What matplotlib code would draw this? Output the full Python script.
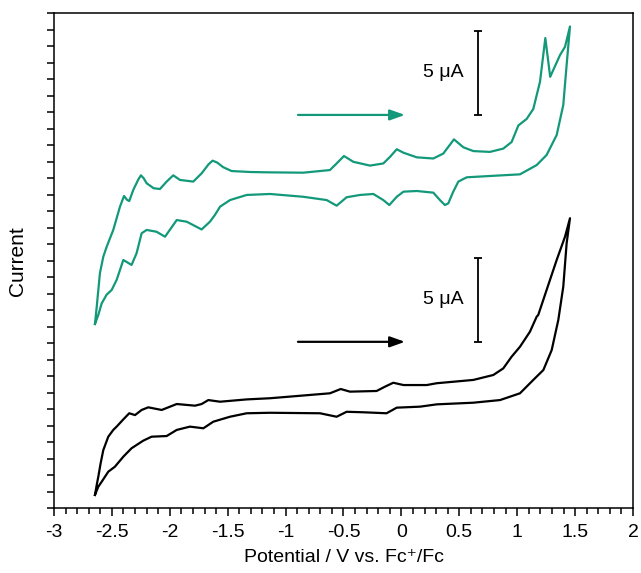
import matplotlib.pyplot as plt
from matplotlib.ticker import MultipleLocator

plt.rcParams['font.family'] = ['Liberation Sans', 'DejaVu Sans']

# CV trace, green (upper) - potential (V vs Fc+/Fc) and current (arb. offset, ~µA)
green_v = [-2.646, -2.631, -2.617, -2.603, -2.574, -2.545, -2.488, -2.43, -2.395, -2.37,
           -2.35, -2.315, -2.27, -2.249, -2.225, -2.2, -2.14, -2.085, -2.027, -1.97,
           -1.912, -1.797, -1.725, -1.665, -1.63, -1.59, -1.538, -1.466, -1.3, -1.135,
           -0.847, -0.617, -0.559, -0.496, -0.415, -0.271, -0.156, -0.098, -0.04, 0.018,
           0.133, 0.276, 0.362, 0.454, 0.535, 0.621, 0.765, 0.88, 0.952, 1.01,
           1.082, 1.139, 1.197, 1.243, 1.285, 1.37, 1.413, 1.456,
           1.427, 1.398, 1.341, 1.254, 1.168, 1.024, 0.765, 0.564, 0.492, 0.448,
           0.405, 0.376, 0.333, 0.276, 0.133, 0.018, -0.04, -0.104, -0.156, -0.242,
           -0.358, -0.473, -0.559, -0.645, -0.847, -1.135, -1.336, -1.48, -1.566, -1.61,
           -1.653, -1.725, -1.854, -1.94, -2.041, -2.114, -2.2, -2.243, -2.287, -2.33,
           -2.401, -2.459, -2.502, -2.545, -2.588, -2.617, -2.646]
green_i = [11.17, 12.2, 13.23, 14.26, 15.25, 15.85, 16.87, 18.28, 18.93, 18.7,
           18.62, 19.3, 19.95, 20.18, 20.0, 19.7, 19.4, 19.35, 19.8, 20.18,
           19.9, 19.8, 20.3, 20.85, 21.07, 20.95, 20.67, 20.44, 20.38, 20.36,
           20.34, 20.5, 20.9, 21.35, 21.0, 20.77, 20.9, 21.3, 21.76, 21.55,
           21.27, 21.2, 21.5, 22.36, 21.88, 21.65, 21.6, 21.8, 22.2, 23.2,
           23.6, 24.2, 25.85, 28.5, 26.15, 27.47, 27.97, 29.2,
           26.87, 24.44, 22.62, 21.41, 20.8, 20.24, 20.14, 20.06, 19.8, 19.19,
           18.48, 18.38, 18.68, 19.13, 19.23, 19.19, 18.88, 18.38, 18.68, 19.05,
           18.99, 18.85, 18.34, 18.68, 18.88, 19.05, 18.99, 18.68, 18.28, 17.78,
           17.37, 16.9, 17.37, 17.47, 16.46, 16.76, 16.87, 16.67, 15.45, 14.75,
           15.05, 13.84, 13.23, 12.95, 12.42, 11.72, 11.17]

# CV trace, black (lower)
black_v = [-2.646, -2.631, -2.617, -2.597, -2.574, -2.531, -2.488, -2.459, -2.401, -2.35,
           -2.3, -2.243, -2.186, -2.07, -1.94, -1.782, -1.725, -1.667, -1.566, -1.336,
           -1.135, -0.617, -0.524, -0.444, -0.214, -0.142, -0.07, 0.018, 0.219, 0.305,
           0.621, 0.794, 0.88, 0.952, 1.024, 1.11, 1.168, 1.182, 1.254, 1.341,
           1.413, 1.456,
           1.427, 1.398, 1.355, 1.298, 1.226, 1.139, 1.024, 0.852, 0.621, 0.305,
           0.161, -0.04, -0.128, -0.329, -0.473, -0.559, -0.703, -1.135, -1.336, -1.48,
           -1.624, -1.71, -1.826, -1.94, -2.027, -2.157, -2.229, -2.33, -2.401, -2.474,
           -2.531, -2.588, -2.617, -2.646]
black_i = [0.81, 1.41, 1.92, 2.73, 3.53, 4.34, 4.75, 4.95, 5.39, 5.76,
           5.65, 5.96, 6.12, 5.96, 6.32, 6.22, 6.32, 6.56, 6.46, 6.6,
           6.67, 6.97, 7.23, 7.07, 7.11, 7.37, 7.61, 7.47, 7.47, 7.58,
           7.78, 8.08, 8.48, 9.19, 9.79, 10.7, 11.61, 11.72, 13.23, 15.05,
           16.46, 17.58,
           16.06, 13.43, 11.41, 9.59, 8.38, 7.78, 6.97, 6.56, 6.4, 6.3,
           6.16, 6.1, 5.76, 5.82, 5.85, 5.55, 5.76, 5.79, 5.76, 5.55,
           5.25, 4.85, 4.95, 4.75, 4.38, 4.34, 4.1, 3.64, 3.13, 2.52,
           2.22, 1.61, 1.31, 0.81]

green = '#13997a'

fig = plt.figure(figsize=(6.41, 5.73), dpi=100)
ax = fig.add_axes([0.0842, 0.1129, 0.9033, 0.8639])

ax.plot(green_v, green_i, color=green, lw=1.6)
ax.plot(black_v, black_i, color='black', lw=1.6)

# sweep direction arrows
arrow_style = '-|>,head_length=0.9,head_width=0.32'
ax.annotate('', xy=(0.031, 23.84), xytext=(-0.893, 23.84),
            arrowprops=dict(arrowstyle=arrow_style, color=green, lw=1.6,
                            shrinkA=0, shrinkB=0))
ax.annotate('', xy=(0.031, 10.09), xytext=(-0.893, 10.09),
            arrowprops=dict(arrowstyle=arrow_style, color='black', lw=1.6,
                            shrinkA=0, shrinkB=0))

# 5 µA scale bars
for mid in (26.39, 12.64):
    ax.errorbar(0.661, mid, yerr=2.55, color='black', lw=1.3,
                capsize=3, capthick=1.3)
    ax.text(0.54, mid, '5 μA', ha='right', va='center', fontsize=14)

ax.set_xlim(-3, 2)
ax.set_ylim(0, 30)
ax.xaxis.set_minor_locator(MultipleLocator(0.1))
ax.yaxis.set_major_locator(MultipleLocator(1))
ax.set_xticks([-3, -2.5, -2, -1.5, -1, -0.5, 0, 0.5, 1, 1.5, 2])
ax.set_xticklabels(['-3', '-2.5', '-2', '-1.5', '-1', '-0.5', '0', '0.5', '1', '1.5', '2'])
ax.set_yticklabels([])
ax.tick_params(axis='x', which='major', direction='out', length=6, width=1.1,
               labelsize=14, pad=5)
ax.tick_params(axis='x', which='minor', direction='out', length=4, width=1.1)
ax.tick_params(axis='y', direction='out', length=5, width=1.1)
for s in ax.spines.values():
    s.set_linewidth(1.1)

ax.set_xlabel('Potential / V vs. Fc⁺/Fc', fontsize=14)
ax.set_ylabel('Current', fontsize=15)
ax.xaxis.set_label_coords(0.5, -0.082)
ax.yaxis.set_label_coords(-0.046, 0.5)

fig.savefig('out.png', dpi=100)
